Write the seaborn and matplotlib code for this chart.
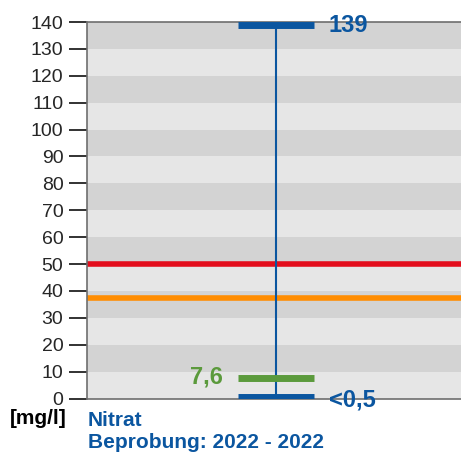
import matplotlib
matplotlib.use("Agg")
import matplotlib.pyplot as plt
import numpy as np
import pandas as pd
import seaborn as sns

# data
y_ticks = list(range(0, 150, 10))
band_edges = list(range(0, 150, 10))
range_min = 0.5
range_max = 139
mean_value = 7.6
limit_red = 50
limit_orange = 37.5
label_max = "139"
label_min = "<0,5"
label_mean = "7,6"
unit_label = "[mg/l]"
title_lines = ["Nitrat", "Beprobung: 2022 - 2022"]

blue = "#0b56a0"
green = "#5b9a3c"
red = "#e30d1c"
orange = "#ff8c00"

sns.set_style("white")
plt.rcParams['font.family'] = ['Liberation Sans', 'DejaVu Sans']

fig = plt.figure(figsize=(4.61, 4.58), dpi=100)
ax = fig.add_axes([87 / 461, 1 - 398.5 / 458, 1 - 87 / 461, (398.5 - 22) / 458])

# alternating bands
for i in range(len(band_edges) - 1):
    col = "#e6e6e6" if i % 2 == 0 else "#d3d3d3"
    ax.axhspan(band_edges[i], band_edges[i + 1], color=col, lw=0, zorder=0)

# limit lines
lim_df = pd.DataFrame({"x": [0, 1, 0, 1],
                       "y": [limit_red, limit_red, limit_orange, limit_orange],
                       "kind": ["red", "red", "orange", "orange"]})
sns.lineplot(data=lim_df, x="x", y="y", hue="kind", palette={"red": red, "orange": orange},
             lw=4, legend=False, ax=ax, zorder=2)

xc = 0.505
hw = 0.102
# range whisker
ax.vlines(xc, range_min, range_max, color=blue, lw=1.5, zorder=3)
ax.hlines([range_min, range_max], xc - hw, xc + hw, color=blue, lw=5, zorder=4)
ax.hlines(mean_value, xc - hw, xc + hw, color=green, lw=5, zorder=4)

ax.text(xc + hw + 0.04, range_max - 0.3, label_max, color=blue, fontsize=17, fontweight="bold",
        va="center", ha="left", zorder=5)
ax.text(xc + hw + 0.04, range_min - 1.2, label_min, color=blue, fontsize=17, fontweight="bold",
        va="center", ha="left", zorder=5, clip_on=False)
ax.text(xc - hw - 0.04, mean_value + 0.3, label_mean, color=green, fontsize=17, fontweight="bold",
        va="center", ha="right", zorder=5)

ax.set_xlim(0, 1)
ax.set_ylim(0, 140)
ax.set_yticks(y_ticks)
ax.set_yticklabels([str(t) for t in y_ticks], fontsize=14)
ax.set_xticks([])
ax.tick_params(axis="y", direction="out", length=13, width=1.3, color="#222222", pad=4, left=True)
ax.set_xlabel("")
ax.set_ylabel("")
for s in ["left", "bottom", "top"]:
    ax.spines[s].set_color("#6e6e6e")
    ax.spines[s].set_linewidth(1.2)
ax.spines["right"].set_visible(False)

fig.text(10 / 461, 1 - 419 / 458, unit_label, fontsize=15, fontweight="bold", color="black",
         va="center", ha="left")
fig.text(88 / 461, 1 - 420 / 458, title_lines[0], fontsize=15, fontweight="bold", color=blue,
         va="center", ha="left")
fig.text(88 / 461, 1 - 442 / 458, title_lines[1], fontsize=15, fontweight="bold", color=blue,
         va="center", ha="left")

fig.savefig("out.png", dpi=100)
